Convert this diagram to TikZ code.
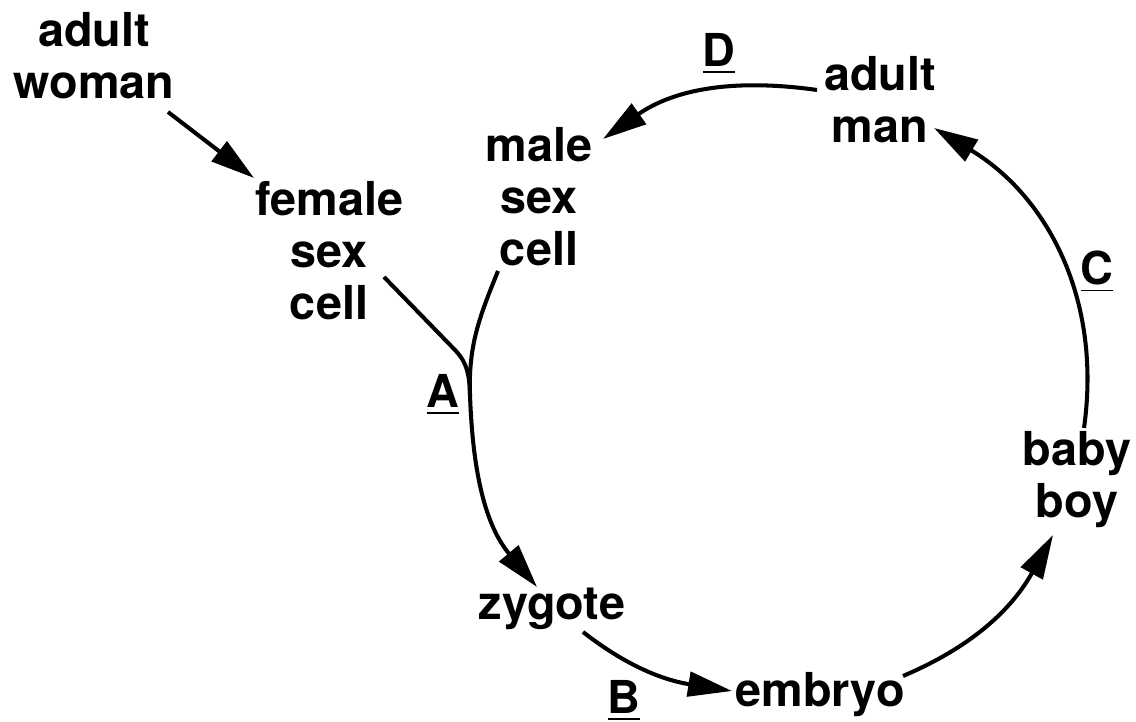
\documentclass[tikz,border=0pt]{standalone}
\usepackage{fontspec}
\setmainfont{TeX Gyre Heros}
\usetikzlibrary{arrows.meta,calc}

\begin{document}
\begin{tikzpicture}[
  x=0.01cm,y=0.01cm,
  stage/.style={align=center,inner sep=0pt,
                font=\bfseries\fontsize{13.3}{14.8}\selectfont},
  tag/.style={inner sep=0pt,anchor=base,
              font=\bfseries\fontsize{12.9}{14}\selectfont},
  arr/.style={-{Triangle[length=12.5pt,width=7pt]},line width=1.15pt}
]
\useasboundingbox (0,0) rectangle (1136,722);
% stages of the cycle
\node[stage] (woman)  at (94,666)  {adult\\woman};
\node[stage] (female) at (329,471) {female\\sex\\cell};
\node[stage] (male)   at (539,525) {male\\sex\\cell};
\node[stage] (man)    at (880,622) {adult\\man};
\node[stage] (baby)   at (1077,242) {baby\\boy};
\node[stage,anchor=base] (zygote) at (552,102) {zygote};
\node[stage,anchor=base] (embryo) at (820,15)  {embryo};
\coordinate (merge) at (470,327);
% step labels
\node[tag] (tagA) at (443,314) {\underline{A}};
\node[tag] (tagB) at (624,8)   {\underline{B}};
\node[tag] (tagC) at (1097,437) {\underline{C}};
\node[tag] (tagD) at (719,655) {\underline{D}};
% connectors
\draw[arr] ($(woman)+(74,-56)$) -- ($(female)+(-75,73)$);
\draw[line width=1.15pt] ($(female)+(55,-26)$) -- ++(71,-73)
  to[out=-46,in=92] (merge);
\draw[line width=1.15pt] ($(male)+(-41,-74)$) to[out=248,in=92] (merge);
\draw[arr] (merge) to[out=272,in=130] ($(zygote.base)+(-15,33)$);
\draw[arr] ($(zygote.base)+(31,-12)$) to[out=322,in=171] ($(embryo.base)+(-88,16)$);
\draw[arr] ($(embryo.base)+(83,31)$) to[out=23,in=241] ($(baby)+(-24,-55)$);
\draw[arr] ($(baby)+(7,52)$) to[out=82,in=329] ($(man)+(54,-28)$);
\draw[arr] ($(man)+(-63,10)$) to[out=172,in=35] ($(male)+(64,58)$);
\end{tikzpicture}
\end{document}
